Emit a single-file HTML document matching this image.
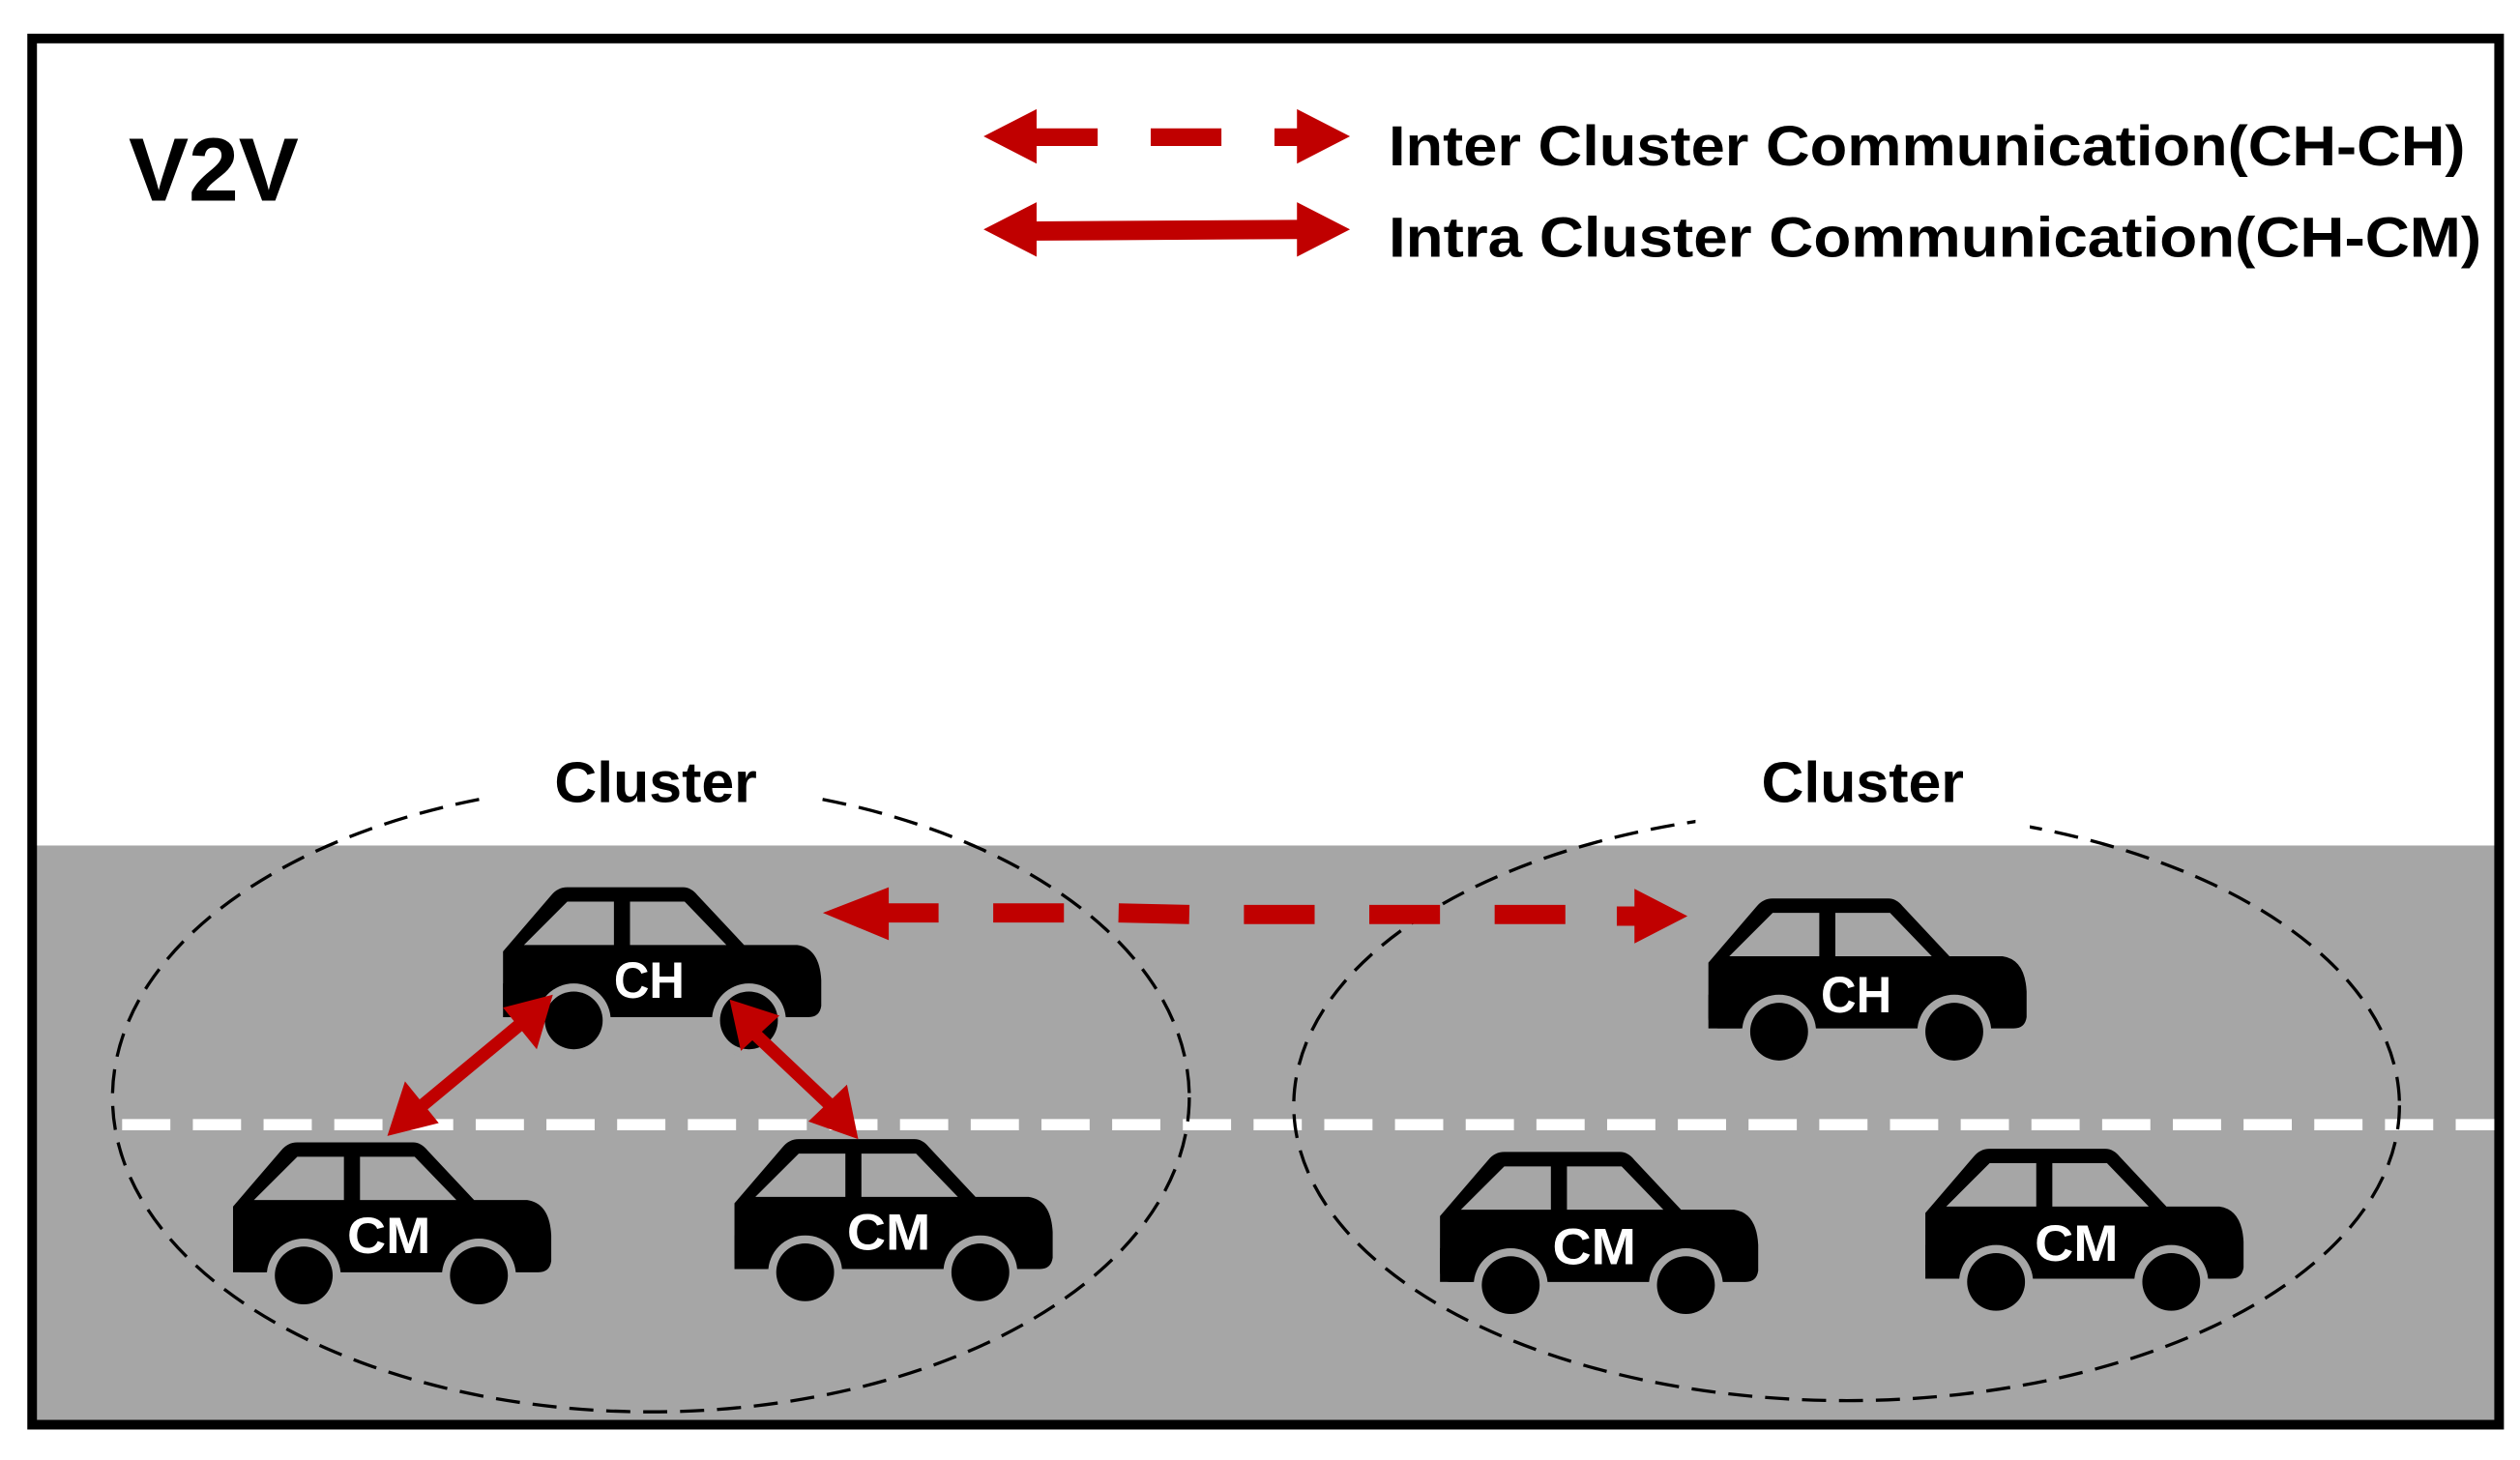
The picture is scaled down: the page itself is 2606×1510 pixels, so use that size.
<!DOCTYPE html>
<html><head><meta charset="utf-8"><style>
html,body{margin:0;padding:0;background:#fff}
svg{display:block}
text{font-family:"Liberation Sans",sans-serif;font-weight:bold}
</style></head><body>
<svg width="2606" height="1510" viewBox="0 0 1568 910" preserveAspectRatio="none" xmlns="http://www.w3.org/2000/svg">
<defs>
<g id="car">
<path d="M0,40 L30,5 Q34,0 40,0 L112,0 Q117,0 121,5 L150,36 L183,36 Q197,38 198,58 L198,74 Q197,81 190,81 L6,81 Q0,81 0,74 Z" fill="#000"/>
<polygon points="13,36 40,9 69,9 69,36" fill="#a6a6a6"/>
<polygon points="79,9 113,9 139,36 79,36" fill="#a6a6a6"/>
<circle cx="44" cy="83" r="23" fill="#a6a6a6"/>
<circle cx="153" cy="83" r="23" fill="#a6a6a6"/>
<rect x="0" y="60" width="20" height="21" fill="#000"/>
<circle cx="44" cy="83" r="18" fill="#000"/>
<circle cx="153" cy="83" r="18" fill="#000"/>
</g>
</defs>
<rect x="0" y="0" width="1568" height="910" fill="#fff"/>
<rect x="22" y="527" width="1532" height="362" fill="#a6a6a6"/>
<rect x="20" y="24" width="1535" height="864" fill="none" stroke="#000" stroke-width="6"/>
<line x1="76" y1="701" x2="1552" y2="701" stroke="#fff" stroke-width="7" stroke-dasharray="30,14"/>

<text x="80" y="125" font-size="56">V2V</text>

<!-- legend -->
<polygon points="612,85 645,68 645,80 683,80 683,91 645,91 645,102" fill="#c00000"/>
<rect x="716" y="80" width="44" height="11" fill="#c00000"/>
<polygon points="840,85 807,68 807,80 793,80 793,91 807,91 807,102" fill="#c00000"/>
<polygon points="612,143 645,126 645,138 807,137 807,126 840,143 807,160 807,149 645,150 645,160" fill="#c00000"/>
<text x="864" y="103" font-size="35" textLength="670" lengthAdjust="spacingAndGlyphs">Inter Cluster Communication(CH-CH)</text>
<text x="864" y="160" font-size="35" textLength="680" lengthAdjust="spacingAndGlyphs">Intra Cluster Communication(CH-CM)</text>

<!-- clusters -->
<ellipse cx="405" cy="684" rx="335" ry="196" fill="none" stroke="#000" stroke-width="2" stroke-dasharray="15,8"/>
<ellipse cx="1149" cy="689" rx="344" ry="184" fill="none" stroke="#000" stroke-width="2" stroke-dasharray="15,8"/>
<rect x="300" y="455" width="210" height="45" fill="#fff"/>
<rect x="1055" y="465" width="208" height="52" fill="#fff"/>
<text x="408" y="500" font-size="36" text-anchor="middle" textLength="126" lengthAdjust="spacingAndGlyphs">Cluster</text>
<text x="1159" y="500" font-size="36" text-anchor="middle" textLength="126" lengthAdjust="spacingAndGlyphs">Cluster</text>

<!-- cars -->
<use href="#car" x="313" y="553"/>
<use href="#car" x="1063" y="560"/>
<use href="#car" x="145" y="712"/>
<use href="#car" x="457" y="710"/>
<use href="#car" x="896" y="718"/>
<use href="#car" x="1198" y="716"/>
<g fill="#fff" font-size="32" text-anchor="middle">
<text x="404" y="622" textLength="44" lengthAdjust="spacingAndGlyphs">CH</text>
<text x="1155" y="631" textLength="44" lengthAdjust="spacingAndGlyphs">CH</text>
<text x="242" y="781" textLength="52" lengthAdjust="spacingAndGlyphs">CM</text>
<text x="553" y="779" textLength="52" lengthAdjust="spacingAndGlyphs">CM</text>
<text x="992" y="788" textLength="52" lengthAdjust="spacingAndGlyphs">CM</text>
<text x="1292" y="786" textLength="52" lengthAdjust="spacingAndGlyphs">CM</text>
</g>

<!-- inter arrow -->
<polygon points="512,569 553,553 553,563 584,563 584,575 553,575 553,586" fill="#c00000"/>
<g stroke="#c00000" stroke-width="12">
<line x1="618" y1="569" x2="662" y2="569"/>
<line x1="696" y1="569" x2="740" y2="570"/>
<line x1="774" y1="570" x2="818" y2="570"/>
<line x1="852" y1="570" x2="896" y2="570"/>
<line x1="930" y1="570" x2="974" y2="570"/>
</g>
<polygon points="1050,571 1017,554 1017,565 1006,565 1006,577 1017,577 1017,588" fill="#c00000"/>

<!-- intra arrows -->
<g stroke="#c00000" stroke-width="8">
<line x1="258" y1="693" x2="329" y2="634"/>
<line x1="465" y1="640" x2="521" y2="693"/>
</g>
<polygon points="241,708 252,674 273,700" fill="#c00000"/>
<polygon points="344,620 313,628 334,654" fill="#c00000"/>
<polygon points="454,623 461,655 485,633" fill="#c00000"/>
<polygon points="534,710 503,699 527,676" fill="#c00000"/>
</svg>
</body></html>
